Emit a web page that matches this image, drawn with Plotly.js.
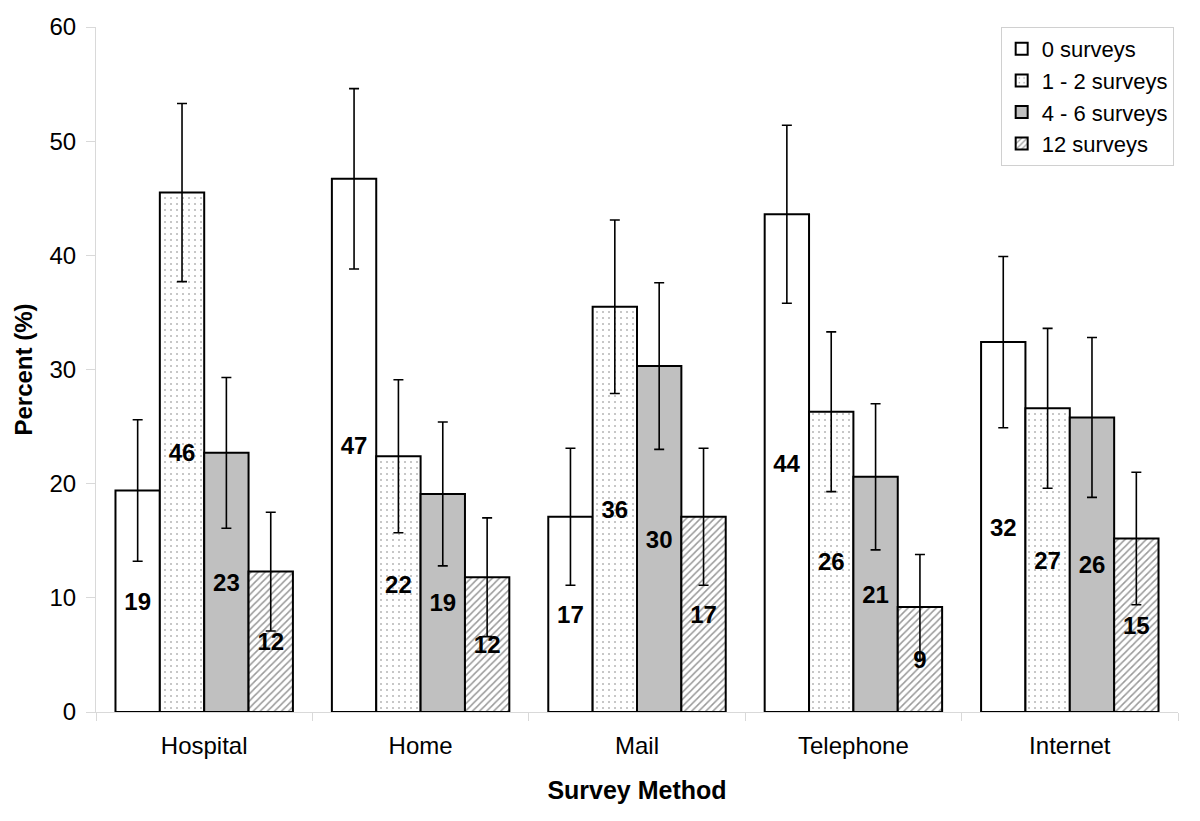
<!DOCTYPE html>
<html>
<head>
<meta charset="utf-8">
<script src="https://cdn.plot.ly/plotly-3.0.1.min.js"></script>
<style>html,body{margin:0;padding:0;background:#fff;}#chart{width:1200px;height:821px;}</style>
</head>
<body>
<div id="chart"></div>
<script>
const categories = ["Hospital", "Home", "Mail", "Telephone", "Internet"];
const seriesNames = ["0 surveys", "1 - 2 surveys", "4 - 6 surveys", "12 surveys"];

const values0 = [19.4, 46.7, 17.1, 43.6, 32.4];
const values12 = [45.5, 22.4, 35.5, 26.3, 26.6];
const values46 = [22.7, 19.1, 30.3, 20.6, 25.8];
const values12s = [12.3, 11.8, 17.1, 9.2, 15.2];

const err0 = [6.2, 7.9, 6.0, 7.8, 7.5];
const err12 = [7.8, 6.7, 7.6, 7.0, 7.0];
const err46 = [6.6, 6.3, 7.3, 6.4, 7.0];
const err12s = [5.2, 5.2, 6.0, 4.6, 5.8];

const font = "Arial, 'Liberation Sans', sans-serif";

function makeTrace(name, y, err, fill, pattern) {
  const t = {
    type: "bar",
    name: name,
    x: categories,
    y: y,
    error_y: {type: "data", array: err, visible: true, color: "#000", thickness: 1.6, width: 5},
    marker: {color: fill, line: {color: "#000", width: 2}},
    texttemplate: "%{y:.0f}",
    textposition: "inside",
    insidetextanchor: "middle",
    textangle: 0,
    constraintext: "none",
    textfont: {family: font, size: 24, color: "#000", weight: "bold"},
    hoverinfo: "skip"
  };
  if (pattern) t.marker.pattern = pattern;
  return t;
}

const data = [
  makeTrace(seriesNames[0], values0, err0, "#ffffff", null),
  makeTrace(seriesNames[1], values12, err12, "#ffffff", {shape: ".", size: 6, solidity: 0.06, fgcolor: "#000", bgcolor: "#ffffff", fillmode: "overlay"}),
  makeTrace(seriesNames[2], values46, err46, "#c0c0c0", null),
  makeTrace(seriesNames[3], values12s, err12s, "#ffffff", {shape: "/", size: 5, solidity: 0.3, fgcolor: "#333", bgcolor: "#ffffff", fillmode: "overlay"})
];

const layout = {
  width: 1200,
  height: 821,
  barmode: "group",
  bargap: 0.18,
  bargroupgap: 0,
  paper_bgcolor: "#fff",
  plot_bgcolor: "#fff",
  margin: {l: 96, r: 22, t: 27, b: 109},
  font: {family: font, color: "#000"},
  showlegend: true,
  legend: {
    x: 0.996, xanchor: "right", y: 1.0, yanchor: "top",
    bgcolor: "#fff", bordercolor: "#d0d0d0", borderwidth: 1,
    font: {family: font, size: 22, color: "#000"},
    tracegroupgap: 0, itemwidth: 30
  },
  xaxis: {
    type: "category",
    showline: true, linecolor: "#d9d9d9", linewidth: 1,
    ticks: "outside", tickson: "boundaries", ticklen: 8, tickcolor: "#d9d9d9",
    tickfont: {family: font, size: 24, color: "#000"},
    ticklabelstandoff: 12,
    showgrid: false, zeroline: false,
    title: {text: "Survey Method", font: {family: font, size: 25, color: "#000", weight: "bold"}, standoff: 23}
  },
  yaxis: {
    range: [0, 60], dtick: 10, tick0: 0,
    showline: true, linecolor: "#d9d9d9", linewidth: 1,
    ticks: "outside", ticklen: 9, tickcolor: "#d9d9d9",
    tickfont: {family: font, size: 24, color: "#000"},
    ticklabelstandoff: 5,
    showgrid: false, zeroline: false,
    title: {text: "Percent (%)", font: {family: font, size: 24, color: "#000", weight: "bold"}, standoff: 10}
  }
};

Plotly.newPlot("chart", data, layout, {displayModeBar: false, staticPlot: true});
</script>
</body>
</html>
